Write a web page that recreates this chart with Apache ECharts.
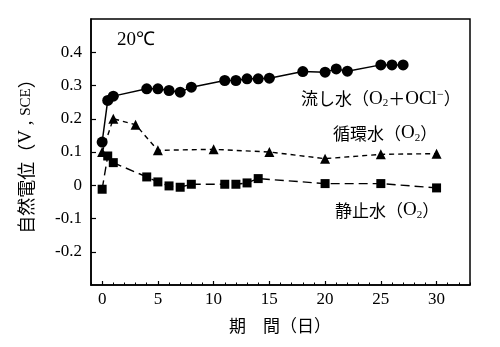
<!DOCTYPE html>
<html>
<head>
<meta charset="utf-8">
<script src="https://cdn.jsdelivr.net/npm/echarts@6/dist/echarts.min.js"></script>
<style>html,body{margin:0;padding:0;background:#fff}#c{width:500px;height:347px}</style>
</head>
<body>
<div id="c"></div>
<script>
// ---- data ----
const flowDays  = [0, 0.5, 1, 4, 5, 6, 7, 8, 11, 12, 13, 14, 15, 18, 20, 21, 22, 25, 26, 27];
const flowVals  = [0.13, 0.255, 0.268, 0.29, 0.29, 0.285, 0.28, 0.295, 0.315, 0.315, 0.32, 0.32, 0.322, 0.342, 0.34, 0.35, 0.343, 0.362, 0.362, 0.362];
const circDays  = [0, 1, 3, 5, 10, 15, 20, 25, 30];
const circVals  = [0.1, 0.2, 0.182, 0.105, 0.108, 0.1, 0.08, 0.093, 0.095];
const stillDays = [0, 0.5, 1, 4, 5, 6, 7, 8, 11, 12, 13, 14, 20, 25, 30];
const stillVals = [-0.012, 0.088, 0.068, 0.025, 0.01, -0.002, -0.006, 0.003, 0.003, 0.003, 0.007, 0.02, 0.005, 0.005, -0.008];
const xTickLabels = [0, 5, 10, 15, 20, 25, 30];
const xMinorTicks = [-1,0,1,2,3,4,5,6,7,8,9,10,11,12,13,14,15,16,17,18,19,20,21,22,23,24,25,26,27,28,29,30,31,32,33];
const yTickLabels = [-0.2, -0.1, 0, 0.1, 0.2, 0.3, 0.4];

const pair = (xs, ys) => xs.map((x, i) => [x, ys[i]]);
const SERIF = "'Liberation Serif', 'DejaVu Serif', serif";
const JP = "'Noto Sans CJK JP', sans-serif";

const chart = echarts.init(document.getElementById('c'), null, {renderer: 'canvas'});

const richLabel = {
  j: {fontFamily: JP, fontSize: 17, color: '#000', lineHeight: 20},
  l: {fontFamily: SERIF, fontSize: 19, color: '#000', lineHeight: 20},
  s: {fontFamily: SERIF, fontSize: 11, color: '#000', lineHeight: 12, verticalAlign: 'bottom'},
  p: {fontFamily: SERIF, fontSize: 12, color: '#000', lineHeight: 12, verticalAlign: 'top'}
};

chart.setOption({
  animation: false,
  backgroundColor: '#fff',
  grid: {left: 91, right: 30, top: 19, bottom: 62, show: true, borderColor: '#000', borderWidth: 1.5, backgroundColor: 'transparent'},
  xAxis: [
    {
      type: 'value', min: -1, max: 33, position: 'bottom',
      axisLine: {show: true, onZero: false, lineStyle: {color: '#000', width: 1.5}},
      axisTick: {show: true, inside: true, length: 4, customValues: xTickLabels, lineStyle: {color: '#000', width: 1.2}},
      axisLabel: {show: true, customValues: xTickLabels, color: '#000', fontFamily: SERIF, fontSize: 17, margin: 6},
      splitLine: {show: false}
    },
    {
      type: 'value', min: -1, max: 33, position: 'bottom',
      axisLine: {show: false, onZero: false},
      axisTick: {show: true, inside: true, length: 2.5, customValues: xMinorTicks, lineStyle: {color: '#000', width: 1}},
      axisLabel: {show: false},
      splitLine: {show: false}
    }
  ],
  yAxis: {
    type: 'value', min: -0.3, max: 0.5,
    axisLine: {show: true, onZero: false, lineStyle: {color: '#000', width: 1.5}},
    axisTick: {show: true, inside: true, length: 5, customValues: yTickLabels, lineStyle: {color: '#000', width: 1.2}},
    axisLabel: {
      show: true, customValues: yTickLabels, color: '#000', fontFamily: SERIF, fontSize: 17, margin: 9,
      formatter: v => { const r = Math.round(v * 10) / 10; return r === 0 ? '0' : r.toFixed(1); }
    },
    splitLine: {show: false},
    name: '{a|自然電位}{a|（}{b|V , }{c|SCE}{a|）}',
    nameLocation: 'middle', nameRotate: 90, nameGap: 55,
    nameTextStyle: {
      rich: {
        a: {fontFamily: JP, fontSize: 18, color: '#000'},
        b: {fontFamily: SERIF, fontSize: 19, color: '#000'},
        c: {fontFamily: SERIF, fontSize: 15, color: '#000'}
      }
    }
  },
  series: [
    {
      name: '流し水', type: 'line', xAxisIndex: 0, data: pair(flowDays, flowVals),
      symbol: 'circle', symbolSize: 11,
      itemStyle: {color: '#000'}, lineStyle: {color: '#000', width: 1.5, type: 'solid'}
    },
    {
      name: '循環水', type: 'line', xAxisIndex: 0, data: pair(circDays, circVals),
      symbol: 'triangle', symbolSize: 10,
      itemStyle: {color: '#000'}, lineStyle: {color: '#000', width: 1.4, type: [5, 4]}
    },
    {
      name: '静止水', type: 'line', xAxisIndex: 0, data: pair(stillDays, stillVals),
      symbol: 'rect', symbolSize: 9,
      itemStyle: {color: '#000'}, lineStyle: {color: '#000', width: 1.4, type: [9, 5]}
    }
  ],
  graphic: [
    {type: 'text', left: 117, top: 31, style: {text: '20℃', font: "19px 'Liberation Serif'", fill: '#000'}},
    {type: 'text', left: 301, top: 89, style: {text: '{j|流し水}{j|（}{l|O}{s|2}{j|＋}{l|OCl}{p|−}{j|）}', rich: richLabel}},
    {type: 'text', left: 333, top: 124, style: {text: '{j|循環水}{j|（}{l|O}{s|2}{j|）}', rich: richLabel}},
    {type: 'text', left: 335, top: 201, style: {text: '{j|静止水}{j|（}{l|O}{s|2}{j|）}', rich: richLabel}},
    {type: 'text', left: 229, top: 317, style: {text: '期　間（日）', font: "17px 'Noto Sans CJK JP'", fill: '#000'}}
  ]
});
</script>
</body>
</html>
